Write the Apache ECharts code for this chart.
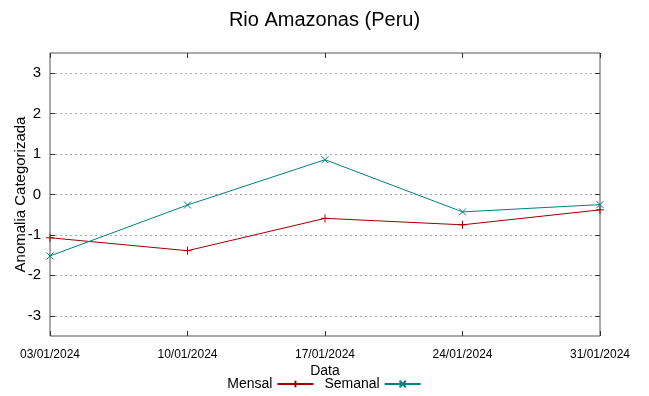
<!DOCTYPE html>
<html>
<head>
<meta charset="utf-8">
<script src="https://cdn.jsdelivr.net/npm/echarts@6/dist/echarts.min.js"></script>
<style>
  html, body { margin: 0; padding: 0; background: #fff; }
  #chart { width: 649px; height: 396px; }
</style>
</head>
<body>
<div id="chart"></div>
<script>
// datas semanais
const dates = ['03/01/2024', '10/01/2024', '17/01/2024', '24/01/2024', '31/01/2024']
const mensal = [-1.07, -1.39, -0.59, -0.75, -0.38]
const semanal = [-1.52, -0.26, 0.86, -0.43, -0.25]
const yTicks = [-3, -2, -1, 0, 1, 2, 3]

const chart = echarts.init(document.getElementById('chart'), null, { renderer: 'canvas' })

const plusPath = 'path://M0,5L10,5M5,0L5,10'
const crossPath = 'path://M0,0L10,10M0,10L10,0'

chart.setOption({
    backgroundColor: '#fff',
    animation: false,
    title: {
        text: 'Rio Amazonas (Peru)',
        left: 'center',
        top: 5,
        textStyle: { fontFamily: 'Liberation Sans', fontSize: 20, fontWeight: 'normal', color: '#000' }
    },
    legend: {
        bottom: 0,
        left: 'center',
        align: 'right',
        itemWidth: 36,
        itemHeight: 8,
        itemGap: 10,
        textStyle: { fontFamily: 'Liberation Sans', fontSize: 14, color: '#000' },
        data: ['Mensal', 'Semanal']
    },
    grid: {
        left: 50,
        right: 49,
        top: 53,
        bottom: 60,
        outerBoundsMode: 'none',
        show: true,
        borderColor: '#555',
        borderWidth: 1
    },
    xAxis: [{
        type: 'category',
        position: 'bottom',
        boundaryGap: false,
        data: dates,
        name: 'Data',
        nameLocation: 'middle',
        nameGap: 28,
        nameMoveOverlap: false,
        nameTextStyle: { fontFamily: 'Liberation Sans', fontSize: 14, color: '#000' },
        axisLine: { show: false, onZero: false },
        axisTick: { show: true, inside: true, length: 5, lineStyle: { color: '#333' } },
        axisLabel: { fontFamily: 'Liberation Sans', fontSize: 12, color: '#000', margin: 13, interval: 0 },
        splitLine: { show: false }
    }, {
        type: 'category',
        position: 'top',
        boundaryGap: false,
        data: dates,
        axisLine: { show: false, onZero: false },
        axisTick: { show: true, inside: true, length: 5, lineStyle: { color: '#333' } },
        axisLabel: { show: false },
        splitLine: { show: false }
    }],
    yAxis: [{
        type: 'value',
        min: -3.5,
        max: 3.5,
        name: 'Anomalia Categorizada',
        nameLocation: 'middle',
        nameGap: 22,
        nameMoveOverlap: false,
        nameTextStyle: { fontFamily: 'Liberation Sans', fontSize: 15, color: '#000' },
        axisLine: { show: false, onZero: false },
        axisTick: { show: true, inside: true, length: 5, customValues: yTicks, lineStyle: { color: '#333' } },
        axisLabel: { fontFamily: 'Liberation Sans', fontSize: 15, color: '#000', margin: 9, customValues: yTicks },
        splitLine: { show: true, lineStyle: { color: '#aaa', type: [2, 3], width: 1 } }
    }, {
        type: 'value',
        position: 'right',
        min: -3.5,
        max: 3.5,
        axisLine: { show: false, onZero: false },
        axisTick: { show: true, inside: true, length: 5, customValues: yTicks, lineStyle: { color: '#333' } },
        axisLabel: { show: false, customValues: yTicks },
        splitLine: { show: false }
    }],
    series: [{
        name: 'Mensal',
        type: 'line',
        data: mensal,
        symbol: plusPath,
        symbolSize: 8,
        showAllSymbol: true,
        lineStyle: { color: '#a00000', width: 1 },
        itemStyle: { color: 'none', borderColor: '#a00000', borderWidth: 1 }
    }, {
        name: 'Semanal',
        type: 'line',
        data: semanal,
        symbol: crossPath,
        symbolSize: 7,
        showAllSymbol: true,
        lineStyle: { color: '#008080', width: 1 },
        itemStyle: { color: 'none', borderColor: '#008080', borderWidth: 1 }
    }]
})
</script>
</body>
</html>
